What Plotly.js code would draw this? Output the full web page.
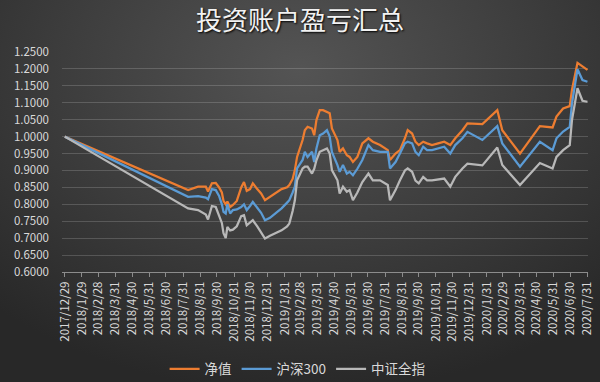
<!DOCTYPE html>
<html>
<head>
<meta charset="utf-8">
<script src="https://cdn.plot.ly/plotly-3.0.1.min.js"></script>
<style>
html,body{margin:0;padding:0;}
#chart{width:600px;height:382px;background:radial-gradient(ellipse 75% 85% at 50% 18%, #545454 0%, #3c3c3c 55%, #282828 100%);}
</style>
</head>
<body>
<div id="chart"></div>
<script>
const dates = ['2017-12-29','2018-08-09','2018-08-27','2018-09-10','2018-09-14','2018-09-21','2018-09-28','2018-10-04','2018-10-09','2018-10-12','2018-10-16','2018-10-19','2018-10-24','2018-10-29','2018-11-05','2018-11-13','2018-11-18','2018-11-23','2018-11-29','2018-12-04','2018-12-12','2018-12-19','2018-12-26','2019-01-04','2019-01-15','2019-01-25','2019-02-04','2019-02-08','2019-02-14','2019-02-18','2019-02-22','2019-03-04','2019-03-08','2019-03-13','2019-03-21','2019-03-25','2019-03-29','2019-04-04','2019-04-10','2019-04-17','2019-04-22','2019-04-26','2019-05-06','2019-05-10','2019-05-16','2019-05-23','2019-05-28','2019-06-03','2019-06-11','2019-06-20','2019-07-01','2019-07-09','2019-07-22','2019-08-05','2019-08-09','2019-08-19','2019-08-27','2019-09-05','2019-09-10','2019-09-18','2019-09-24','2019-09-30','2019-10-08','2019-10-15','2019-10-24','2019-11-04','2019-11-15','2019-11-26','2019-12-05','2019-12-18','2019-12-27','2020-01-23','2020-02-19','2020-02-28','2020-03-31','2020-05-06','2020-05-29','2020-06-05','2020-06-17','2020-06-29','2020-07-03','2020-07-13','2020-07-22','2020-07-31'];

const netValue = [1.000,0.842,0.852,0.852,0.838,0.862,0.863,0.850,0.835,0.810,0.800,0.808,0.792,0.798,0.810,0.850,0.866,0.840,0.845,0.862,0.845,0.832,0.812,0.822,0.832,0.845,0.850,0.857,0.875,0.901,0.940,0.990,1.019,1.029,1.024,1.004,1.049,1.078,1.078,1.073,1.069,1.024,0.990,0.955,0.965,0.945,0.940,0.925,0.940,0.980,0.995,0.985,0.975,0.960,0.931,0.950,0.960,0.995,1.019,1.009,0.985,0.975,0.985,0.980,0.975,0.980,0.985,0.975,0.995,1.019,1.039,1.037,1.078,1.019,0.950,1.031,1.027,1.059,1.083,1.090,1.138,1.218,1.207,1.197];

const hs300 = [1.000,0.822,0.824,0.820,0.815,0.845,0.842,0.825,0.800,0.778,0.773,0.800,0.773,0.783,0.785,0.792,0.800,0.783,0.795,0.807,0.790,0.775,0.753,0.760,0.775,0.788,0.805,0.812,0.835,0.852,0.906,0.931,0.955,0.940,0.955,0.925,0.965,1.004,1.009,1.019,1.000,0.955,0.916,0.896,0.916,0.891,0.896,0.886,0.905,0.931,0.975,0.960,0.955,0.955,0.906,0.925,0.950,0.980,0.985,0.980,0.955,0.945,0.970,0.960,0.960,0.965,0.970,0.950,0.975,0.995,1.014,0.990,1.031,0.980,0.911,0.985,0.960,0.995,1.015,1.029,1.098,1.199,1.167,1.162];

const csiAll = [1.000,0.788,0.783,0.770,0.755,0.795,0.792,0.765,0.745,0.715,0.700,0.733,0.723,0.725,0.735,0.765,0.768,0.738,0.745,0.753,0.735,0.718,0.699,0.707,0.715,0.723,0.735,0.743,0.780,0.812,0.871,0.906,0.911,0.911,0.891,0.905,0.930,0.955,0.960,0.965,0.950,0.901,0.871,0.832,0.852,0.837,0.842,0.812,0.835,0.866,0.891,0.871,0.871,0.857,0.812,0.842,0.871,0.900,0.906,0.896,0.870,0.862,0.881,0.871,0.871,0.873,0.876,0.852,0.881,0.906,0.920,0.915,0.968,0.916,0.857,0.922,0.906,0.940,0.960,0.975,1.049,1.143,1.106,1.103];

const seriesNames = ['净值','沪深300','中证全指'];

const tickDates = ['2017-12-29','2018-01-29','2018-02-28','2018-03-31','2018-04-30','2018-05-31','2018-06-30','2018-07-31','2018-08-31','2018-09-30','2018-10-31','2018-11-30','2018-12-31','2019-01-31','2019-02-28','2019-03-31','2019-04-30','2019-05-31','2019-06-30','2019-07-31','2019-08-31','2019-09-30','2019-10-31','2019-11-30','2019-12-31','2020-01-31','2020-02-29','2020-03-31','2020-04-30','2020-05-31','2020-06-30','2020-07-31'];
const tickLabels = ['2017/12/29','2018/1/29','2018/2/28','2018/3/31','2018/4/30','2018/5/31','2018/6/30','2018/7/31','2018/8/31','2018/9/30','2018/10/31','2018/11/30','2018/12/31','2019/1/31','2019/2/28','2019/3/31','2019/4/30','2019/5/31','2019/6/30','2019/7/31','2019/8/31','2019/9/30','2019/10/31','2019/11/30','2019/12/31','2020/1/31','2020/2/29','2020/3/31','2020/4/30','2020/5/31','2020/6/30','2020/7/31'];

const yTicks = [0.60,0.65,0.70,0.75,0.80,0.85,0.90,0.95,1.00,1.05,1.10,1.15,1.20,1.25];

const colors = ['#ED7D31','#5B9BD5','#B8B8B8'];
const values = [netValue, hs300, csiAll];

const traces = values.map((v,i)=>({
  type:'scatter', mode:'lines', x:dates, y:v, name:seriesNames[i], legendgroup:'g'+i,
  line:{color:colors[i], width:2.25}
}));

const font = "'Noto Sans CJK SC', 'Microsoft YaHei', sans-serif";

const layout = {
  width:600, height:382,
  paper_bgcolor:'rgba(0,0,0,0)', plot_bgcolor:'rgba(0,0,0,0)',
  margin:{l:62, r:12, t:52, b:110},
  title:{text:'投资账户盈亏汇总', x:0.5, xref:'container', y:0.945, yref:'container', yanchor:'middle',
    font:{family:font, size:26, color:'#f2f2f2', shadow:'1px 1px 2px #000'}},
  xaxis:{type:'date', range:['2017-12-24','2020-08-01'], tickmode:'array', tickvals:tickDates, ticktext:tickLabels,
    tickangle:-90, tickfont:{family:font, size:11.5, color:'#d9d9d9'},
    showgrid:false, showline:true, linecolor:'#8c8c8c', linewidth:1,
    ticks:'outside', ticklen:4, tickcolor:'#8c8c8c', zeroline:false},
  yaxis:{range:[0.6,1.25], tickmode:'array', tickvals:yTicks, tickformat:'.4f',
    tickfont:{family:font, size:11.5, color:'#d9d9d9'},
    showgrid:true, gridcolor:'rgba(255,255,255,0.17)', gridwidth:1, zeroline:false, showline:false,
    ticklabelstandoff:12},
  showlegend:true,
  legend:{orientation:'h', xref:'container', yref:'container', x:0.496, xanchor:'center', y:0.034, yanchor:'middle',
    traceorder:'grouped', tracegroupgap:8,
    font:{family:font, size:13.5, color:'#d9d9d9'}, bgcolor:'rgba(0,0,0,0)'}
};

Plotly.newPlot('chart', traces, layout, {displayModeBar:false, staticPlot:true});
</script>
</body>
</html>
